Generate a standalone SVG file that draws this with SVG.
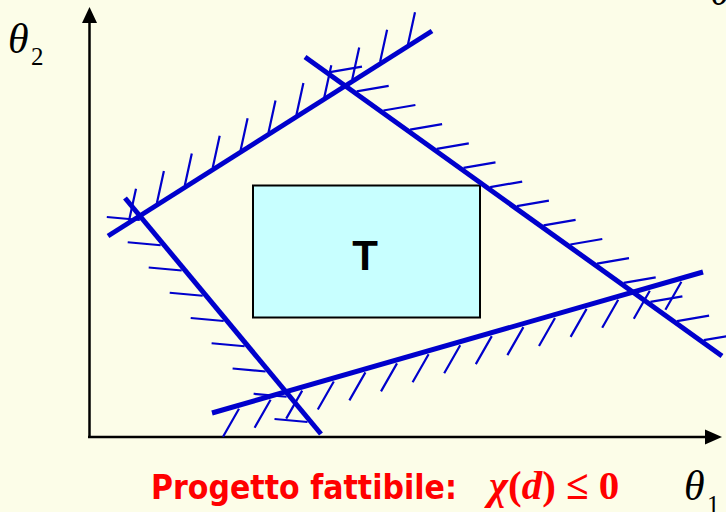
<svg xmlns="http://www.w3.org/2000/svg" width="726" height="512" viewBox="0 0 726 512">
<defs>
<style>
.ax{stroke:#000;stroke-width:2.5;fill:none}
.bnd{stroke:#0000CC;stroke-width:5;stroke-linecap:butt;fill:none}
.h{stroke:#0000CC;stroke-width:2.2;fill:none}
.greek{font-family:"Liberation Serif","Times New Roman",serif;font-style:italic;fill:#000}
.sub{font-family:"Liberation Serif","Times New Roman",serif;fill:#000}
</style>
</defs>
<rect width="726" height="512" fill="#FCFDE8"/>
<g id="axes">
<line class="ax" x1="89.5" y1="438" x2="89.5" y2="20"/>
<polygon points="89.5,7 82,23 97,23" fill="#000"/>
<line class="ax" x1="88" y1="437" x2="708" y2="437"/>
<polygon points="722,437 705,429.5 705,444.5" fill="#000"/>
</g>
<g id="region-T">
<rect x="253" y="185.5" width="227" height="132" fill="#C8FFFF" stroke="#000" stroke-width="2"/>
<text x="365" y="270" text-anchor="middle" font-family="Liberation Sans,Arial,sans-serif" font-weight="bold" font-size="42" fill="#000">T</text>
</g>
<g id="hatches">
<path class="h" d="M129,220.7L136,188.7M156.9,203.1L163.9,171.1M184.8,185.4L191.8,153.4M212.7,167.8L219.7,135.8M240.6,150.2L247.6,118.2M268.5,132.5L275.5,100.5M296.4,114.9L303.4,82.9M324.3,97.2L331.3,65.2M352.2,79.6L359.2,47.6M380.1,61.8L387.1,29.8M408,44.2L415,12.2"/>
<path class="h" d="M330,72.2L362,66.7M356.7,91.4L388.7,85.9M383.4,110.5L415.4,105M410.1,129.6L442.1,124.1M436.8,148.8L468.8,143.3M463.5,167.9L495.5,162.4M490.2,187.1L522.2,181.6M516.9,206.2L548.9,200.7M543.6,225.4L575.6,219.9M570.3,244.5L602.3,239M597,263.6L629,258.1M623.7,282.8L655.7,277.3M650.4,301.9L682.4,296.4M677.1,321.1L709.1,315.6M703.8,340.2L735.8,334.7"/>
<path class="h" d="M139.8,220L106.8,217M160.7,245.25L127.7,242.25M181.7,270.5L148.7,267.5M202.7,295.75L169.7,292.75M223.7,321L190.7,318M244.6,346.25L211.6,343.25M265.6,371.5L232.6,368.5M286.6,396.75L253.6,393.75M307.5,422L274.5,419"/>
<path class="h" d="M239,408.7L223,436.7M270.6,399.7L254.6,427.7M302.2,390.6L286.2,418.6M333.8,381.5L317.8,409.5M365.4,372.4L349.4,400.4M397,363.4L381,391.4M428.6,354.3L412.6,382.3M460.2,345.2L444.2,373.2M491.8,336.1L475.8,364.1M523.4,327.1L507.4,355.1M555,318L539,346M586.6,308.9L570.6,336.9M618.2,299.8L602.2,327.8M649.8,290.8L633.8,318.8M681.4,281.7L665.4,309.7"/>
</g>
<g id="boundaries">
<line class="bnd" x1="108" y1="236" x2="432" y2="31"/>
<line class="bnd" x1="305" y1="57" x2="722" y2="356"/>
<line class="bnd" x1="125" y1="198" x2="321" y2="434"/>
<line class="bnd" x1="212" y1="413" x2="703" y2="272"/>
</g>
<g id="labels">
<text class="greek" x="8" y="53" font-size="42">θ</text>
<text class="sub" x="31" y="65" font-size="25">2</text>
<text class="greek" x="684" y="500" font-size="42">θ</text>
<text class="sub" x="707" y="513" font-size="25">1</text>
<text class="greek" x="710" y="5" font-size="42">θ</text>
<text x="151" y="499" font-family="DejaVu Sans,Verdana,sans-serif" font-weight="bold" font-size="33" fill="#FF0000" textLength="306" lengthAdjust="spacingAndGlyphs">Progetto fattibile:</text>
<text x="489" y="499" font-family="Liberation Serif,Times New Roman,serif" font-weight="bold" font-size="41" fill="#FF0000"><tspan font-style="italic">χ</tspan>(<tspan font-style="italic">d</tspan>) ≤ 0</text>
</g>
</svg>
